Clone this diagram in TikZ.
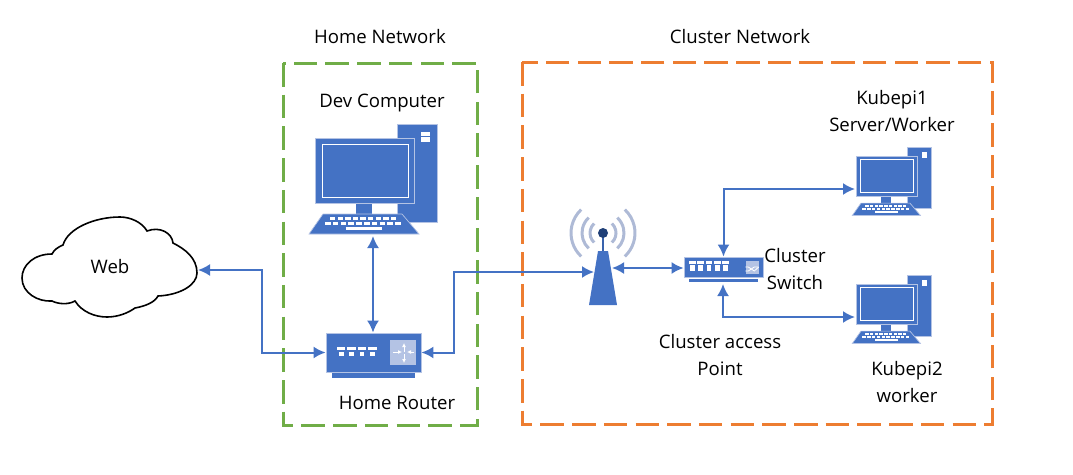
\documentclass[tikz,border=0pt]{standalone}
\usepackage{fontspec}
\setmainfont{Open Sans}
\usetikzlibrary{arrows.meta}
\definecolor{netblue}{HTML}{4472C4}
\definecolor{netpale}{HTML}{B4C3E4}
\definecolor{netwave}{HTML}{AEBAD6}
\definecolor{netdark}{HTML}{1F3F77}
\definecolor{netgreen}{HTML}{70AD47}
\definecolor{netorange}{HTML}{ED7D31}
\tikzset{
    zone/.style={line width=3pt, dash pattern=on 23.5pt off 8.2pt},
    link/.style={{Latex[length=12pt,width=12pt]}-{Latex[length=12pt,width=12pt]}, netblue, line width=2pt},
    label/.style={font=\fontsize{18.6}{26.5}\selectfont, align=center, inner sep=0pt},
    box/.style={fill=netblue, draw=netpale, line width=.8pt, inner sep=0pt},
    wave/.style={netwave, line width=3pt},
    tinyarrow/.style={white, line width=1pt, -{Latex[length=4pt,width=4pt]}},
    pccomputer/.pic={
        \fill[netblue, draw=netpale, line width=.7pt] (82,-14) rectangle (122,84);
        \fill[white] (106,-6) rectangle (115,-2);
        \fill[white] (106,-1) rectangle (115,4);
        \fill[netblue] (41,65) rectangle (57,76);
        \fill[netblue, draw=netpale, line width=.7pt] (0,0) rectangle (99,65);
        \draw[white, line width=.9pt] (7,6) rectangle (93,59);
        \fill[netblue, draw=netpale, line width=.7pt] (8,76) -- (87,76) -- (104,96) -- (-6,96) -- cycle;
        \foreach \k in {0,...,8}
            \fill[white] (15+\k*7.6,79) rectangle +(5.4,3.2);
        \foreach \k in {0,...,9}
            \fill[white] (10+\k*7.8,84) rectangle +(5.6,3.2);
        \fill[white] (31,89) rectangle (67,92);
    }
}
\begin{document}
\begin{tikzpicture}[x=1pt, y=-1pt]
    \useasboundingbox (0,0) rectangle (1073,474);

    \draw[zone, netgreen] (283,63) rectangle (477,425);
    \draw[zone, netorange] (522,62) rectangle (992,424);

    \node[label] (homelabel) at (380,37) {Home Network};
    \node[label] (clusterlabel) at (740,37) {Cluster Network};
    \node[label] (devlabel) at (382,103) {Dev Computer};
    \node[label] (routerlabel) at (397,403) {Home Router};
    \node[label] (kubepi1label) at (892,111) {Kubepi1\\Server/Worker};
    \node[label] (kubepi2label) at (907,382) {Kubepi2\\worker};
    \node[label] (switchlabel) at (795,269) {Cluster\\Switch};
    \node[label] (aplabel) at (720,355) {Cluster access\\Point};

    \draw[black, line width=1.6pt, fill=white] (52,254)
        .. controls (34,254) and (22,265) .. (22,278)
        .. controls (22,293) and (38,302) .. (52,301)
        .. controls (58,304) and (68,305) .. (75,301)
        .. controls (82,312) and (95,317) .. (107,317)
        .. controls (118,317) and (128,313) .. (135,308)
        .. controls (146,306) and (155,302) .. (158,296)
        .. controls (180,295) and (197,285) .. (197,273)
        .. controls (197,258) and (185,249) .. (173,243)
        .. controls (172,233) and (160,226) .. (147,231)
        .. controls (142,222) and (130,217) .. (120,217)
        .. controls (95,217) and (68,228) .. (63,245)
        .. controls (58,247) and (54,250) .. (52,254) -- cycle;
    \node[label] (web) at (110,267) {Web};
    \coordinate (webport) at (198,270);

    \pic at (315,138) {pccomputer};
    \coordinate (devport) at (373,236);

    \fill[netblue] (332,372) rectangle (415,378);
    \node[box, minimum width=95pt, minimum height=39pt] (router) at (373.5,352.5) {};
    \foreach \k in {0,1,2,3} {
        \fill[white] (337+\k*10.4,347) rectangle +(8.4,3);
        \fill[white] (339+\k*10.4,352) rectangle +(4.6,4);
    }
    \node[fill=netpale, minimum width=26pt, minimum height=25pt, inner sep=0pt] (routerpanel) at (403,352.5) {};
    \draw[tinyarrow] (393,352) -- (402,352);
    \draw[tinyarrow] (414,352) -- (407,352);
    \draw[tinyarrow] (404,352) -- (404,343);
    \draw[tinyarrow] (404,354) -- (404,363);

    \foreach \r in {13,21,32} {
        \draw[wave] (603,233) ++(47:\r) arc [start angle=47, end angle=-47, radius=\r];
        \draw[wave] (603,233) ++(133:\r) arc [start angle=133, end angle=227, radius=\r];
    }
    \draw[netblue!70!netdark, line width=1.2pt] (603,233) -- (603,252);
    \fill[netdark] (603,233) circle (5);
    \fill[netblue] (598,251) -- (608,251) -- (617,305) -- (589,305) -- cycle;
    \coordinate (apwest) at (594,272);
    \coordinate (apeast) at (612,268);

    \fill[netblue] (689,279) rectangle (758,282);
    \node[box, minimum width=79pt, minimum height=20pt] (switch) at (723.5,267) {};
    \foreach \k in {0,...,4} {
        \fill[white] (689+\k*8.3,261) rectangle +(6.6,2.5);
        \fill[white] (690+\k*8.3,265) rectangle +(4.6,6);
    }
    \node[fill=netpale, minimum width=13pt, minimum height=13pt, inner sep=0pt] (switchpanel) at (752,267) {};
    \draw[white, line width=.8pt] (switchpanel.west) -- +(3,0) -- +(9,4) -- (switchpanel.east);
    \draw[white, line width=.8pt] (switchpanel.west) ++(0,4) -- +(3,0) -- +(9,-4) -- +(13,-4);
    \coordinate (switchsouth) at (723,284);

    \pic[scale=.62] at (856,156) {pccomputer};
    \coordinate (kubepi1) at (855,189);
    \pic[scale=.62] at (856,284) {pccomputer};
    \coordinate (kubepi2) at (855,317);

    \draw[link] (webport) -- ++(64,0) |- (router.west);
    \draw[link] (devport) -- (router.north -| devport);
    \draw[link] (router.east) -- ++(33,0) |- (apwest);
    \draw[link] (apeast) -- (apeast -| switch.west);
    \draw[link] (switch.north) |- (kubepi1);
    \draw[link] (switchsouth) |- (kubepi2);
\end{tikzpicture}
\end{document}
